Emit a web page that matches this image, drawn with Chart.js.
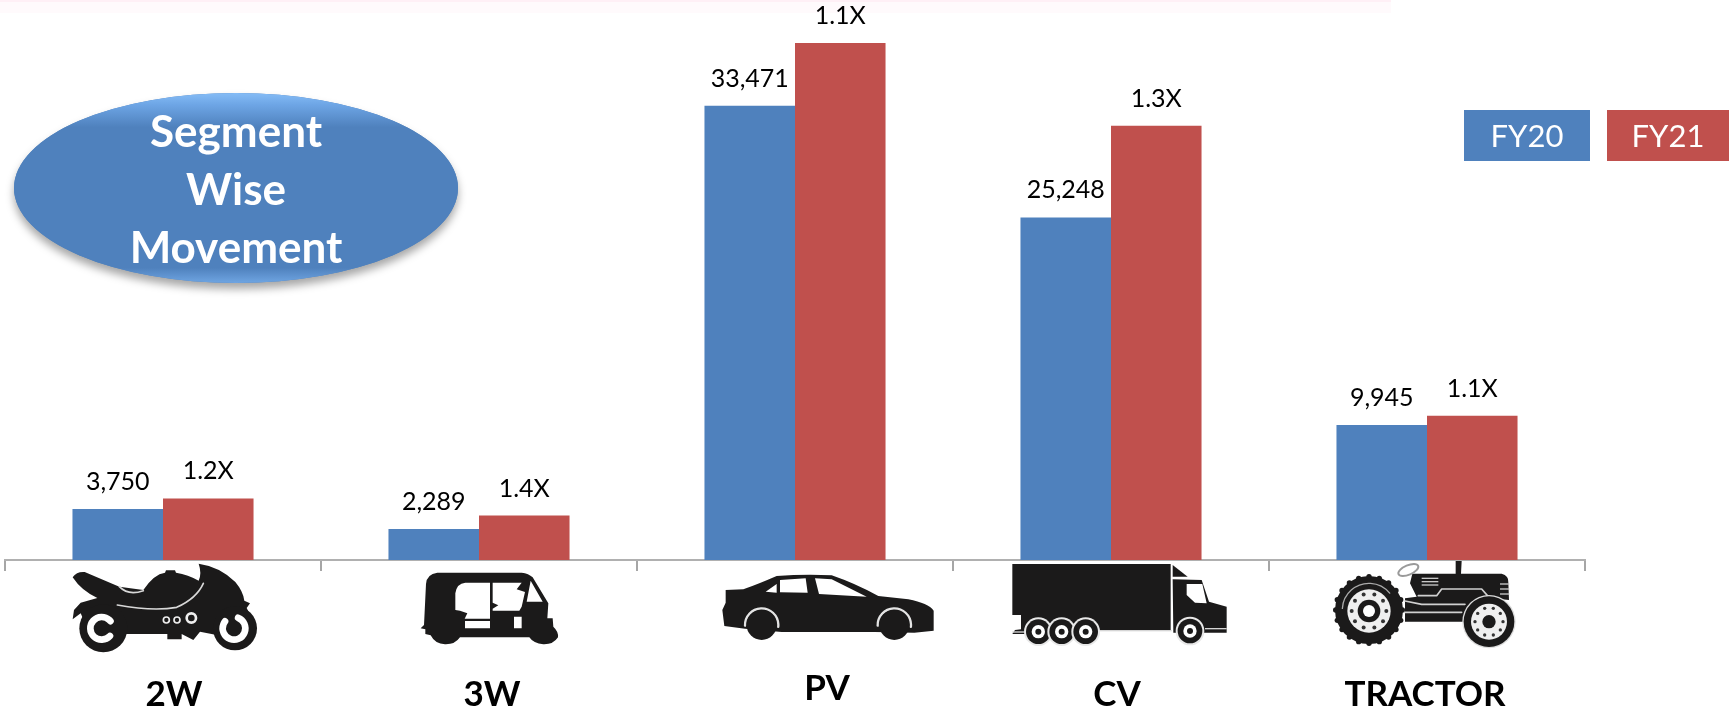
<!DOCTYPE html>
<html>
<head>
<meta charset="utf-8">
<title>Segment Wise Movement</title>
<script src="https://cdn.jsdelivr.net/npm/chart.js@4/dist/chart.umd.min.js"></script>
<style>
    html, body { margin: 0; padding: 0; background: #fff; overflow: hidden; }
    canvas { display: block; }
</style>
</head>
<body>
<canvas id="chart" width="1729" height="713"></canvas>
<script>
const categories = ['2W', '3W', 'PV', 'CV', 'TRACTOR'];
const fy20 = [3750, 2289, 33471, 25248, 9945];
const fy21 = [4540, 3280, 38100, 32000, 10630];
const multiples = ['1.2X', '1.4X', '1.1X', '1.3X', '1.1X'];
const seriesNames = ['FY20', 'FY21'];
const badgeLines = ['Segment', 'Wise', 'Movement'];

const BLUE = '#4f81bd';
const RED = '#c0504d';
const INK = '#1b1a1a';
const FONT = 'Lato, "Open Sans", sans-serif';

// text boxes sit a bit off the category centres in the original slide
const labelOffsetX = [11, 13, 32, 6, -2];
const labelY = [695, 695, 689, 695, 695];

function poly(ctx, d, fill) {
    ctx.fillStyle = fill;
    ctx.fill(new Path2D(d), 'evenodd');
}

function disc(ctx, x, y, r, fill) {
    ctx.fillStyle = fill;
    ctx.beginPath();
    ctx.arc(x, y, r, 0, Math.PI * 2);
    ctx.fill();
}

function ring(ctx, x, y, r, w, color, a0, a1) {
    ctx.strokeStyle = color;
    ctx.lineWidth = w;
    ctx.beginPath();
    ctx.arc(x, y, r, a0 === undefined ? 0 : a0, a1 === undefined ? Math.PI * 2 : a1);
    ctx.stroke();
}

// icons are traced in 3x crop coordinates, see withIcon
function withIcon(ctx, ox, oy, draw) {
    ctx.save();
    ctx.translate(ox, oy);
    ctx.scale(1 / 3, 1 / 3);
    ctx.lineCap = 'round';
    ctx.lineJoin = 'round';
    draw(ctx);
    ctx.restore();
}

function drawBike(ctx) {
    poly(ctx, 'M38 52 Q50 34 74 36 L178 80 L250 90 Q282 42 315 38 L318 31 L345 31 L348 38 Q385 44 416 62 Q426 40 416 11 Q480 20 526 66 Q550 95 553 122 L570 130 L560 144 L590 205 L470 225 L420 215 L400 240 L365 222 L365 238 L322 238 L322 222 L190 222 L150 165 L70 178 L62 160 L38 178 L42 150 L62 128 L112 114 Q64 92 38 52 Z', INK);
    disc(ctx, 130, 205, 72, INK);
    disc(ctx, 525, 205, 66, INK);
    ring(ctx, 125, 205, 34, 20, '#fff', 0.75, 5.6);
    ring(ctx, 522, 205, 34, 20, '#fff', -1.2, 3.8);
    ctx.strokeStyle = '#d8d8d8';
    ctx.lineWidth = 5;
    ctx.beginPath();
    ctx.moveTo(172, 135);
    ctx.quadraticCurveTo(280, 155, 350, 142);
    ctx.quadraticCurveTo(410, 115, 430, 70);
    ctx.stroke();
    ctx.beginPath();
    ctx.moveTo(178, 80);
    ctx.quadraticCurveTo(205, 108, 250, 92);
    ctx.stroke();
    ring(ctx, 319, 180, 9, 5, '#eee');
    ring(ctx, 351, 180, 9, 5, '#eee');
    ring(ctx, 394, 174, 14, 8, '#eee');
}

function drawAuto(ctx) {
    poly(ctx, 'M48 72 Q50 42 82 38 L335 38 Q356 40 368 52 L415 130 L412 175 L428 175 L430 200 Q446 215 444 232 Q430 254 400 253 Q370 250 358 232 L150 232 Q135 254 105 253 Q75 252 62 226 L46 222 L46 208 L32 205 L42 195 Z' +
        ' M136 100 Q140 70 166 68 L240 68 L240 176 L164 176 L172 160 L150 152 L136 150 Z' +
        ' M165 183 L240 183 L240 205 L165 205 Z' +
        ' M248 68 L335 68 L320 88 L345 96 L335 140 L328 152 L248 152 L248 146 L265 136 L248 128 Z' +
        ' M312 170 L335 170 L335 205 L312 205 Z' +
        ' M362 62 L398 125 L350 125 Z', INK);
}

function drawCar(ctx) {
    poly(ctx, 'M32 90 L85 88 Q130 72 185 48 Q270 42 350 46 Q420 70 490 108 L580 118 Q640 130 656 152 L656 212 L598 218 L480 216 L200 216 L90 206 L28 198 L22 150 L32 128 Z' +
        ' M152 95 L185 72 L185 98 Z M195 60 L272 55 L278 98 L195 97 Z M300 55 L350 58 L455 110 L312 102 Z', INK);
    ring(ctx, 140, 195, 50, 7, '#e4e4e4', 3.1, 6.4);
    ring(ctx, 538, 195, 50, 7, '#e4e4e4', 3.1, 6.4);
    disc(ctx, 140, 195, 45, INK);
    disc(ctx, 538, 195, 45, INK);
}

function drawTruck(ctx) {
    poly(ctx, 'M22 12 L497 12 L497 210 L280 210 L280 222 L22 222 L30 210 L48 208 L48 165 L22 165 Z', INK);
    poly(ctx, 'M503 15 L548 50 L503 50 Z', INK);
    poly(ctx, 'M503 58 L590 60 L612 125 L665 140 L665 218 L505 218 Z M545 72 L592 72 L605 130 L570 128 L545 105 Z', INK);
    ctx.fillStyle = '#d5d5d5';
    ctx.fillRect(22, 214, 40, 4);
    ctx.fillRect(280, 210, 220, 4);
    ctx.fillRect(600, 204, 65, 4);
    [100, 170, 242].forEach(x => {
        disc(ctx, x, 215, 43, '#e8e8e8');
        disc(ctx, x, 215, 37, INK);
        disc(ctx, x, 215, 20, '#fff');
        disc(ctx, x, 215, 9, INK);
    });
    disc(ctx, 555, 213, 43, '#e8e8e8');
    disc(ctx, 555, 213, 37, INK);
    disc(ctx, 555, 213, 20, '#fff');
    disc(ctx, 555, 213, 9, INK);
}

function drawTractor(ctx) {
    poly(ctx, 'M392 18 L410 18 L408 56 L530 56 Q552 62 550 82 L552 135 L500 130 L440 140 L415 200 L240 200 L240 130 L275 125 L255 85 L262 56 L392 56 Z', INK);
    ctx.strokeStyle = '#d0d0d0';
    ctx.lineWidth = 5;
    ctx.beginPath();
    ctx.moveTo(240, 172);
    ctx.lineTo(410, 172);
    ctx.moveTo(240, 138);
    ctx.lineTo(290, 148);
    ctx.lineTo(420, 148);
    ctx.moveTo(280, 122);
    ctx.lineTo(335, 122);
    ctx.lineTo(350, 102);
    ctx.lineTo(470, 102);
    ctx.lineTo(490, 125);
    ctx.stroke();
    ctx.fillStyle = '#c8c8c8';
    [68, 78, 88].forEach(y => ctx.fillRect(290, y, 50, 4));
    [85, 100, 115].forEach(y => ctx.fillRect(525, y, 28, 4));
    ctx.strokeStyle = '#9a9a9a';
    ctx.lineWidth = 6;
    ctx.beginPath();
    ctx.ellipse(250, 45, 32, 14, -0.4, 0, Math.PI * 2);
    ctx.stroke();
    for (let i = 0; i < 20; i++) {
        const a = i / 20 * Math.PI * 2;
        disc(ctx, 132 + Math.cos(a) * 100, 165 + Math.sin(a) * 100, 8, INK);
    }
    disc(ctx, 132, 165, 102, INK);
    disc(ctx, 132, 168, 65, '#efefef');
    disc(ctx, 132, 168, 34, INK);
    disc(ctx, 132, 168, 18, '#fff');
    for (let i = 0; i < 10; i++) {
        const a = i / 10 * Math.PI * 2;
        disc(ctx, 132 + Math.cos(a) * 52, 168 + Math.sin(a) * 52, 6, '#333');
    }
    ring(ctx, 132, 165, 80, 4, '#aaa', 3.2, 5.6);
    disc(ctx, 492, 200, 80, '#ddd');
    disc(ctx, 492, 200, 76, INK);
    disc(ctx, 492, 200, 54, '#efefef');
    disc(ctx, 492, 200, 20, INK);
    for (let i = 0; i < 10; i++) {
        const a = i / 10 * Math.PI * 2;
        disc(ctx, 492 + Math.cos(a) * 42, 200 + Math.sin(a) * 42, 5, '#333');
    }
}

const iconDraw = [
    [60, 560, drawBike],
    [410, 560, drawAuto],
    [715, 560, drawCar],
    [1005, 560, drawTruck],
    [1325, 555, drawTractor]
];

function drawBadge(ctx) {
    const cx = 236, cy = 188, rx = 222, ry = 95;
    ctx.save();
    ctx.shadowColor = 'rgba(0,0,0,0.35)';
    ctx.shadowBlur = 9;
    ctx.shadowOffsetY = 6;
    ctx.fillStyle = BLUE;
    ctx.beginPath();
    ctx.ellipse(cx, cy, rx, ry, 0, 0, Math.PI * 2);
    ctx.fill();
    ctx.restore();

    const g = ctx.createLinearGradient(0, cy - ry, 0, cy + ry);
    g.addColorStop(0, '#85bcf6');
    g.addColorStop(0.06, '#6ea6e6');
    g.addColorStop(0.18, BLUE);
    g.addColorStop(0.92, BLUE);
    g.addColorStop(1, '#6fa5e2');
    ctx.fillStyle = g;
    ctx.beginPath();
    ctx.ellipse(cx, cy, rx, ry, 0, 0, Math.PI * 2);
    ctx.fill();

    ctx.fillStyle = '#fff';
    ctx.font = 'bold 44px ' + FONT;
    ctx.textAlign = 'center';
    ctx.textBaseline = 'middle';
    badgeLines.forEach((line, i) => ctx.fillText(line, cx, 133 + i * 58));
}

function drawKey(ctx) {
    const boxes = [[1464, 126, BLUE], [1607, 122, RED]];
    boxes.forEach((b, i) => {
        ctx.fillStyle = b[2];
        ctx.fillRect(b[0], 110, b[1], 51);
        ctx.fillStyle = '#fff';
        ctx.font = '31px ' + FONT;
        ctx.textAlign = 'center';
        ctx.textBaseline = 'middle';
        ctx.fillText(seriesNames[i], b[0] + b[1] / 2, 137);
    });
}

const slideExtras = {
    id: 'slideExtras',
    beforeDraw(chart) {
        // faint pink smear along the top edge of the slide capture
        const ctx = chart.ctx;
        ctx.fillStyle = 'rgba(255,238,246,0.3)';
        ctx.fillRect(0, 0, 1391, 13);
        ctx.fillStyle = 'rgba(255,225,238,0.4)';
        ctx.fillRect(0, 0, 1391, 2);
    },
    afterDraw(chart) {
        const ctx = chart.ctx;
        const x = chart.scales.x;

        // numbers over the bars
        ctx.save();
        ctx.fillStyle = '#000';
        ctx.font = '25px ' + FONT;
        ctx.textAlign = 'center';
        ctx.textBaseline = 'middle';
        chart.getDatasetMeta(0).data.forEach((bar, i) => {
            ctx.fillText(fy20[i].toLocaleString('en-US'), bar.x, bar.y - 27);
        });
        chart.getDatasetMeta(1).data.forEach((bar, i) => {
            ctx.fillText(multiples[i], bar.x, bar.y - 27);
        });

        // segment names
        ctx.font = 'bold 35px ' + FONT;
        categories.forEach((c, i) => {
            ctx.fillText(c, x.getPixelForValue(i) + labelOffsetX[i], labelY[i]);
        });

        iconDraw.forEach(ic => withIcon(ctx, ic[0], ic[1], ic[2]));
        drawBadge(ctx);
        drawKey(ctx);
        ctx.restore();
    }
};

new Chart(document.getElementById('chart'), {
    type: 'bar',
    data: {
        labels: categories,
        datasets: [
            {label: seriesNames[0], data: fy20, backgroundColor: BLUE, borderWidth: 0},
            {label: seriesNames[1], data: fy21, backgroundColor: RED, borderWidth: 0}
        ]
    },
    options: {
        responsive: false,
        animation: false,
        categoryPercentage: 0.573,
        barPercentage: 1,
        layout: {padding: {left: 5, right: 144, top: 0, bottom: 142}},
        plugins: {legend: {display: false}, tooltip: {enabled: false}},
        scales: {
            x: {
                ticks: {display: false},
                grid: {drawOnChartArea: false, tickLength: 11, color: '#a6a6a6', lineWidth: 2},
                border: {color: '#b0b0b0', width: 2}
            },
            y: {display: false, min: 0, max: 41272}
        }
    },
    plugins: [slideExtras]
});
</script>
</body>
</html>
